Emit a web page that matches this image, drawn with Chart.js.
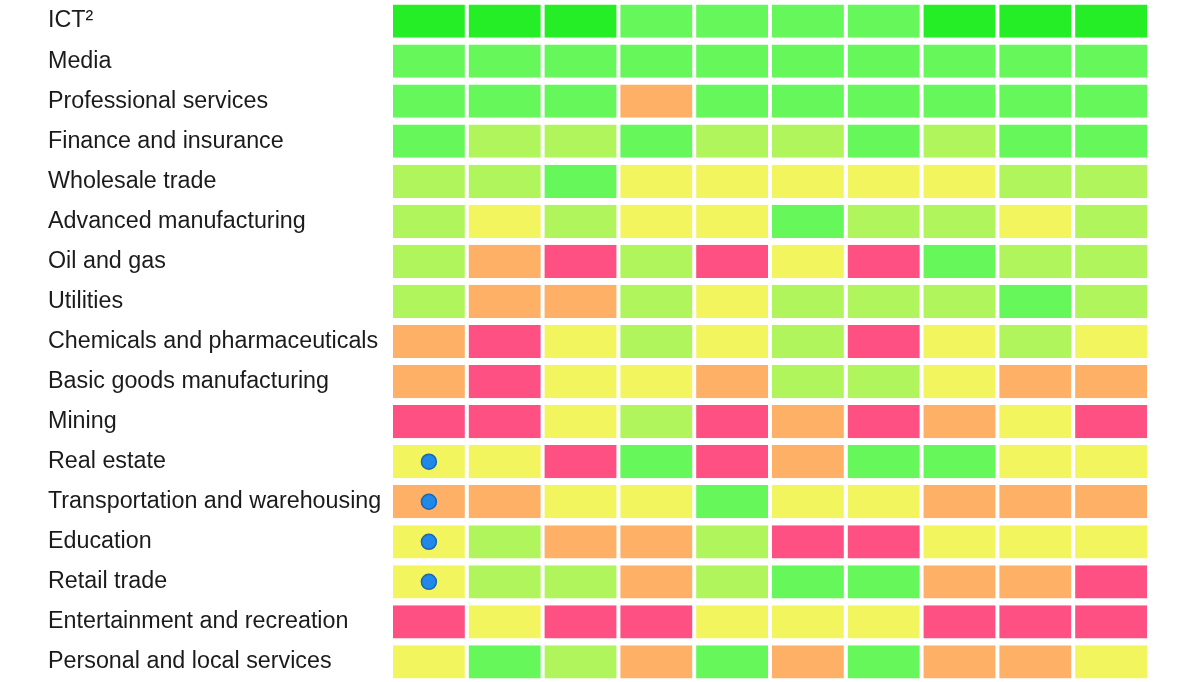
<!DOCTYPE html>
<html>
<head>
<meta charset="utf-8">
<script src="https://cdn.jsdelivr.net/npm/chart.js@4.4.1/dist/chart.umd.min.js"></script>
<style>
  html, body { margin: 0; padding: 0; background: #fff; }
  #wrap { width: 1200px; height: 682px; }
</style>
</head>
<body>
<div id="wrap"><canvas id="heat" width="1200" height="682"></canvas></div>
<script>
// row labels (top to bottom)
const sectors = [
  "ICT\u00B2",
  "Media",
  "Professional services",
  "Finance and insurance",
  "Wholesale trade",
  "Advanced manufacturing",
  "Oil and gas",
  "Utilities",
  "Chemicals and pharmaceuticals",
  "Basic goods manufacturing",
  "Mining",
  "Real estate",
  "Transportation and warehousing",
  "Education",
  "Retail trade",
  "Entertainment and recreation",
  "Personal and local services"
];

// score per cell, 10 columns per sector: 5 = top green ... 0 = red
const scores = [
  [5, 5, 5, 4, 4, 4, 4, 5, 5, 5],
  [4, 4, 4, 4, 4, 4, 4, 4, 4, 4],
  [4, 4, 4, 1, 4, 4, 4, 4, 4, 4],
  [4, 3, 3, 4, 3, 3, 4, 3, 4, 4],
  [3, 3, 4, 2, 2, 2, 2, 2, 3, 3],
  [3, 2, 3, 2, 2, 4, 3, 3, 2, 3],
  [3, 1, 0, 3, 0, 2, 0, 4, 3, 3],
  [3, 1, 1, 3, 2, 3, 3, 3, 4, 3],
  [1, 0, 2, 3, 2, 3, 0, 2, 3, 2],
  [1, 0, 2, 2, 1, 3, 3, 2, 1, 1],
  [0, 0, 2, 3, 0, 1, 0, 1, 2, 0],
  [2, 2, 0, 4, 0, 1, 4, 4, 2, 2],
  [1, 1, 2, 2, 4, 2, 2, 1, 1, 1],
  [2, 3, 1, 1, 3, 0, 0, 2, 2, 2],
  [2, 3, 3, 1, 3, 4, 4, 1, 1, 0],
  [0, 2, 0, 0, 2, 2, 2, 0, 0, 0],
  [2, 4, 3, 1, 4, 1, 4, 1, 1, 2]
];

// sectors flagged with a blue dot in the first column
const flaggedSectors = ["Real estate", "Transportation and warehousing", "Education", "Retail trade"];

const palette = ["#ff5083", "#fdb066", "#f3f55e", "#b0f55c", "#66f75a", "#26ee26"];

const columnCount = scores[0].length;

const cellDatasets = [];
for (let c = 0; c < columnCount; c++) {
  cellDatasets.push({
    type: "bar",
    data: sectors.map(() => 1),
    backgroundColor: scores.map((row) => palette[row[c]]),
    borderColor: "#ffffff",
    borderWidth: { left: 2, right: 2, top: 0, bottom: 0 },
    borderSkipped: false,
    barPercentage: 0.83,
    categoryPercentage: 1,
    order: 2,
  });
}

const dotDataset = {
  type: "scatter",
  stack: "dots",
  data: flaggedSectors.map((s) => ({ x: 0.5, y: s })),
  pointRadius: 7.5,
  pointBackgroundColor: "#1f88e8",
  pointBorderColor: "#1668b8",
  pointBorderWidth: 1.5,
  order: 0,
};

const ctx = document.getElementById("heat").getContext("2d");
new Chart(ctx, {
  type: "bar",
  data: { labels: sectors, datasets: [...cellDatasets, dotDataset] },
  options: {
    indexAxis: "y",
    responsive: false,
    animation: false,
    events: [],
    // autoPadding would shrink the grid to make room for the dots
    layout: { autoPadding: false, padding: { left: 48, right: 51, top: 1, bottom: 0 } },
    plugins: { legend: { display: false }, tooltip: { enabled: false } },
    scales: {
      x: {
        type: "linear",
        stacked: true,
        min: 0,
        max: columnCount,
        display: false,
      },
      y: {
        type: "category",
        stacked: true,
        grid: { display: false },
        border: { display: false },
        ticks: {
          crossAlign: "far",
          padding: 0,
          color: "#1b1b1b",
          font: { family: "'Liberation Sans', Arial, Helvetica, sans-serif", size: 23.3 },
        },
        afterFit: (scale) => {
          scale.width = 343;
          scale.paddingTop = 0;
          scale.paddingBottom = 0;
        },
      },
    },
  },
});
</script>
</body>
</html>
